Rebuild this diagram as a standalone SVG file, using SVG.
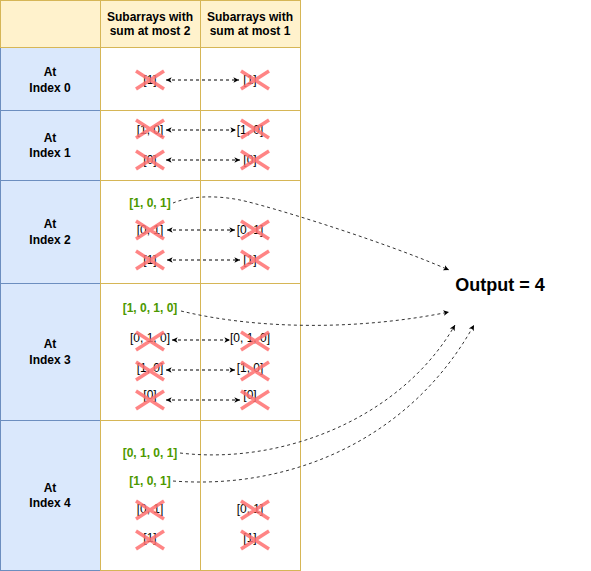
<svg xmlns="http://www.w3.org/2000/svg" width="591" height="571" viewBox="0 0 591 571">
<style>
.hdr{fill:#fff2cc;stroke:#d6b656;stroke-width:1}
.lab{fill:#dae8fc;stroke:#6c8ebf;stroke-width:1}
.cell{fill:#ffffff;stroke:#d6b656;stroke-width:1}
text{font-family:"Liberation Sans",Arial,Helvetica,sans-serif;font-size:12px;text-anchor:middle}
.b{font-weight:bold}
.g{font-weight:bold;fill:#4d9900}
.x{stroke:#ff7070;stroke-width:3.5;stroke-opacity:0.85;fill:none}
.d{stroke:#000;stroke-width:1;stroke-dasharray:3 3;fill:none;marker-start:url(#arr);marker-end:url(#arr)}
.c{stroke:#333;stroke-width:1;stroke-dasharray:3 3;fill:none;marker-end:url(#arr)}
.out{font-size:18px;font-weight:bold}
</style>
<defs>
<marker id="arr" viewBox="0 0 10 10" refX="9" refY="5" markerWidth="7" markerHeight="7" markerUnits="userSpaceOnUse" orient="auto-start-reverse">
<path d="M1,1 L9,5 L1,9 L3,5 z" fill="#000"/>
</marker>
</defs>
<rect width="591" height="571" fill="#fff"/>

<g id="labels">
<rect class="lab" x="0.5" y="47.5" width="100" height="63"/>
<rect class="lab" x="0.5" y="110.5" width="100" height="70"/>
<rect class="lab" x="0.5" y="180.5" width="100" height="103"/>
<rect class="lab" x="0.5" y="283.5" width="100" height="137"/>
<rect class="lab" x="0.5" y="420.5" width="100" height="150"/>
</g>
<g id="header">
<rect class="hdr" x="0.5" y="0.5" width="100" height="47"/>
<rect class="hdr" x="100.5" y="0.5" width="100" height="47"/>
<rect class="hdr" x="200.5" y="0.5" width="100" height="47"/>
<text class="b" x="150" y="20.5">Subarrays with</text>
<text class="b" x="150" y="35">sum at most 2</text>
<text class="b" x="250" y="20.5">Subarrays with</text>
<text class="b" x="250" y="35">sum at most 1</text>
</g>
<g id="cells">
<rect class="cell" x="100.5" y="47.5" width="100" height="63"/>
<rect class="cell" x="200.5" y="47.5" width="100" height="63"/>
<rect class="cell" x="100.5" y="110.5" width="100" height="70"/>
<rect class="cell" x="200.5" y="110.5" width="100" height="70"/>
<rect class="cell" x="100.5" y="180.5" width="100" height="103"/>
<rect class="cell" x="200.5" y="180.5" width="100" height="103"/>
<rect class="cell" x="100.5" y="283.5" width="100" height="137"/>
<rect class="cell" x="200.5" y="283.5" width="100" height="137"/>
<rect class="cell" x="100.5" y="420.5" width="100" height="150"/>
<rect class="cell" x="200.5" y="420.5" width="100" height="150"/>
</g>

<g id="index0"><text class="b" x="50" y="76">At</text><text class="b" x="50" y="91.5">Index 0</text></g>
<g id="index1"><text class="b" x="50" y="141.5">At</text><text class="b" x="50" y="157">Index 1</text></g>
<g id="index2"><text class="b" x="50" y="228">At</text><text class="b" x="50" y="243.5">Index 2</text></g>
<g id="index3"><text class="b" x="50" y="348">At</text><text class="b" x="50" y="363.5">Index 3</text></g>
<g id="index4"><text class="b" x="50" y="492">At</text><text class="b" x="50" y="507">Index 4</text></g>

<g id="items">
<text x="150" y="84">[1]</text><text x="250" y="84">[1]</text>
<text x="150" y="134">[1, 0]</text><text x="250" y="134">[1, 0]</text>
<text x="150" y="164">[0]</text><text x="250" y="164">[0]</text>
<text class="g" x="150" y="207">[1, 0, 1]</text>
<text x="150" y="234">[0, 1]</text><text x="250" y="234">[0, 1]</text>
<text x="150" y="264">[1]</text><text x="250" y="264">[1]</text>
<text class="g" x="150" y="312">[1, 0, 1, 0]</text>
<text x="150" y="342">[0, 1, 0]</text><text x="250" y="342">[0, 1, 0]</text>
<text x="150" y="371.5">[1, 0]</text><text x="250" y="371.5">[1, 0]</text>
<text x="150" y="399">[0]</text><text x="250" y="399">[0]</text>
<text class="g" x="150" y="457">[0, 1, 0, 1]</text>
<text class="g" x="150" y="485">[1, 0, 1]</text>
<text x="150" y="513">[0, 1]</text><text x="250" y="513">[0, 1]</text>
<text x="150" y="542">[1]</text><text x="250" y="542">[1]</text>
</g>

<g id="crosses">
<path class="x" d="M136,71 L164,89 M164,71 L136,89 M241,71 L269,89 M269,71 L241,89"/>
<path class="x" d="M136,120 L164,138 M164,120 L136,138 M241,120 L269,138 M269,120 L241,138"/>
<path class="x" d="M136,151 L164,169 M164,151 L136,169 M241,151 L269,169 M269,151 L241,169"/>
<path class="x" d="M136,221 L164,239 M164,221 L136,239 M241,221 L269,239 M269,221 L241,239"/>
<path class="x" d="M136,251 L164,269 M164,251 L136,269 M241,251 L269,269 M269,251 L241,269"/>
<path class="x" d="M136,332 L164,350 M164,332 L136,350 M241,332 L269,350 M269,332 L241,350"/>
<path class="x" d="M136,362 L164,380 M164,362 L136,380 M241,362 L269,380 M269,362 L241,380"/>
<path class="x" d="M136,391 L164,409 M164,391 L136,409 M241,391 L269,409 M269,391 L241,409"/>
<path class="x" d="M136,501 L164,519 M164,501 L136,519 M241,501 L269,519 M269,501 L241,519"/>
<path class="x" d="M136,531 L164,549 M164,531 L136,549 M241,531 L269,549 M269,531 L241,549"/>
</g>

<g id="output"><text class="out" x="500" y="291">Output = 4</text></g>

<g id="connectors">
<line class="d" x1="166" y1="80" x2="239" y2="80"/>
<line class="d" x1="166" y1="130" x2="236" y2="130"/>
<line class="d" x1="166" y1="160" x2="240" y2="160"/>
<line class="d" x1="167" y1="230" x2="235" y2="230"/>
<line class="d" x1="167" y1="260" x2="240" y2="260"/>
<line class="d" x1="172" y1="340" x2="230" y2="340"/>
<line class="d" x1="166" y1="370" x2="235" y2="370"/>
<line class="d" x1="166" y1="400" x2="240" y2="400"/>
<path class="c" d="M173,203 C190,196 215,195 240,200 S380,240 449,270"/>
<path class="c" d="M181,311 C260,330 360,330 449,312"/>
<path class="c" d="M180,453 C280,465 400,420 455,325"/>
<path class="c" d="M173,481 C290,490 410,440 474,325"/>
</g>
</svg>
